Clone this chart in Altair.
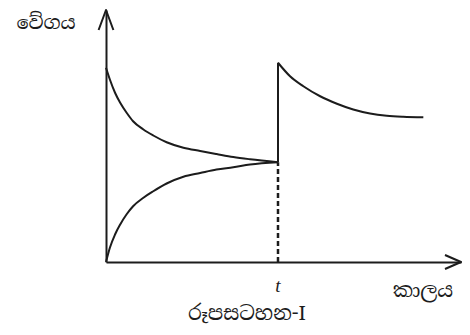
import altair as alt
import pandas as pd

# ---- data (x: time units, y: rate units) ----
T = 4.0
grid_x = [0.0, 0.09, 0.21, 0.33, 0.48, 0.63, 0.87, 1.10, 1.41, 1.80, 2.19, 2.57, 2.96, 3.35, 4.0]
dec_y = [7.77, 7.30, 6.77, 6.37, 5.97, 5.63, 5.30, 5.06, 4.79, 4.57, 4.44, 4.32, 4.20, 4.11, 3.99]
inc_y = [0.0, 0.57, 1.10, 1.50, 1.91, 2.23, 2.57, 2.83, 3.14, 3.41, 3.56, 3.70, 3.79, 3.90, 3.99]
after_x = [4.0, 4.28, 4.59, 4.98, 5.37, 5.75, 6.14, 6.53, 6.91, 7.38]
after_y = [7.97, 7.43, 7.03, 6.63, 6.33, 6.10, 5.94, 5.85, 5.81, 5.79]
X_MAX = 8.256
Y_MAX = 10.08

y_label = "වේගය"
x_label = "කාලය"
t_label = "t"
caption = "රූපසටහන-I"

INK = "#1c1c1c"
SIN_FONT = "Noto Serif Sinhala, Noto Sans Sinhala, Iskoola Pota, Liberation Serif, serif"

df = pd.DataFrame({
    "x": grid_x + grid_x + after_x,
    "y": dec_y + inc_y + after_y,
    "series": ["forward"] * len(grid_x) + ["reverse"] * len(grid_x) + ["after"] * len(after_x),
})

xs = alt.Scale(domain=[0, X_MAX], nice=False, zero=False)
ys = alt.Scale(domain=[0, Y_MAX], nice=False, zero=False)
ax = alt.Axis(domain=True, domainColor=INK, domainWidth=2, ticks=False, labels=False,
              grid=False, title=None)

curves = alt.Chart(df).mark_line(interpolate="monotone", color=INK, strokeWidth=2).encode(
    x=alt.X("x:Q", scale=xs, axis=ax),
    y=alt.Y("y:Q", scale=ys, axis=ax),
    detail="series:N",
)

jump = alt.Chart(pd.DataFrame({"x": [T], "y": [dec_y[-1]], "y2": [after_y[0]]})).mark_rule(
    color=INK, strokeWidth=2).encode(x=alt.X("x:Q", scale=xs), y=alt.Y("y:Q", scale=ys), y2="y2:Q")

dashed = alt.Chart(pd.DataFrame({"x": [T], "y": [0.0], "y2": [dec_y[-1]]})).mark_rule(
    color=INK, strokeWidth=2.5, strokeDash=[5, 3]).encode(
    x=alt.X("x:Q", scale=xs), y=alt.Y("y:Q", scale=ys), y2="y2:Q")

arrow_y = alt.Chart(pd.DataFrame({"x": [0.0], "y": [Y_MAX]})).mark_point(
    shape="M-0.37,1L0,0L0.37,1", size=1600, filled=False, stroke=INK, strokeWidth=2,
    opacity=1, strokeJoin="round").encode(x=alt.X("x:Q", scale=xs), y=alt.Y("y:Q", scale=ys))

arrow_x = alt.Chart(pd.DataFrame({"x": [X_MAX], "y": [0.0]})).mark_point(
    shape="M-0.44,1L0,0L0.44,1", size=1024, filled=False, stroke=INK, strokeWidth=2,
    opacity=1, angle=90, strokeJoin="round").encode(x=alt.X("x:Q", scale=xs), y=alt.Y("y:Q", scale=ys))

ylab = alt.Chart(pd.DataFrame({"l": [y_label]})).mark_text(
    font=SIN_FONT, fontSize=19, color=INK, align="center", baseline="alphabetic").encode(
    text="l:N", x=alt.value(-60), y=alt.value(19))

xlab = alt.Chart(pd.DataFrame({"l": [x_label]})).mark_text(
    font=SIN_FONT, fontSize=20, color=INK, align="center", baseline="alphabetic").encode(
    text="l:N", x=alt.value(317), y=alt.value(287))

tlab = alt.Chart(pd.DataFrame({"x": [T], "l": [t_label]})).mark_text(
    font="Liberation Serif", fontSize=19, fontStyle="italic", color=INK, align="center",
    baseline="alphabetic").encode(text="l:N", x=alt.X("x:Q", scale=xs), y=alt.value(282))

cap = alt.Chart(pd.DataFrame({"l": [caption]})).mark_text(
    font=SIN_FONT, fontSize=20, color=INK, align="center", baseline="alphabetic").encode(
    text="l:N", x=alt.value(141), y=alt.value(310))

chart = alt.layer(curves, jump, dashed, arrow_y, arrow_x, ylab, xlab, tlab, cap).properties(
    width=355, height=252,
    padding={"left": 98, "top": 2, "right": 1, "bottom": 64},
    autosize=alt.AutoSizeParams(type="none"),
).configure_view(stroke=None)

chart.save("out.html", embed_options={"renderer": "svg", "actions": False})
